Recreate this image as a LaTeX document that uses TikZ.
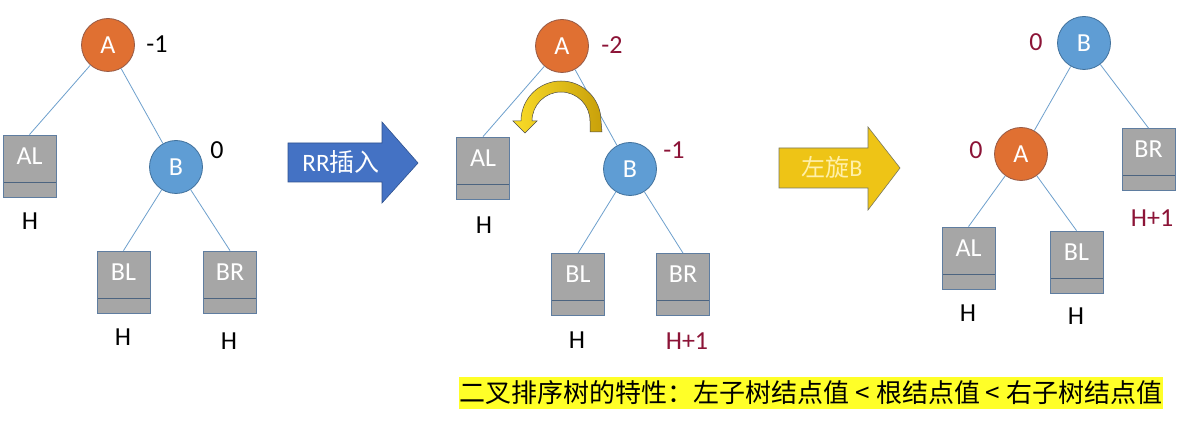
\documentclass[tikz,border=0pt]{standalone}
\usepackage{fontspec}
\setmainfont{Carlito}
\newfontfamily\cjk{Noto Sans CJK SC}
\definecolor{aorange}{RGB}{224,112,50}
\definecolor{aborder}{RGB}{150,90,70}
\definecolor{bblue}{RGB}{95,157,212}
\definecolor{bborder}{RGB}{65,113,156}
\definecolor{boxgray}{RGB}{166,166,166}
\definecolor{boxborder}{RGB}{95,125,160}
\definecolor{edgeblue}{RGB}{110,160,205}
\definecolor{darkred}{RGB}{140,20,55}
\definecolor{arrblue}{RGB}{68,114,196}
\definecolor{arrblueb}{RGB}{47,82,143}
\definecolor{arryel}{RGB}{238,196,22}
\definecolor{arryelb}{RGB}{120,120,95}
\definecolor{curvl}{RGB}{250,220,40}
\definecolor{curvr}{RGB}{200,160,10}
\definecolor{txtcream}{RGB}{255,240,170}
\definecolor{hilite}{RGB}{255,255,40}
\begin{document}
\begin{tikzpicture}[x=1pt,y=1pt,
  anode/.style={circle,fill=aorange,draw=aborder,line width=0.8pt,minimum size=53pt,inner sep=0pt,text=white,font=\fontsize{26}{26}\selectfont},
  bnode/.style={circle,fill=bblue,draw=bborder,line width=0.8pt,minimum size=53pt,inner sep=0pt,text=white,font=\fontsize{26}{26}\selectfont},
  tbox/.style={rectangle,fill=boxgray,draw=boxborder,line width=0.8pt,minimum width=53pt,minimum height=62pt,inner sep=0pt,
    path picture={
      \draw[boxborder!80!black,line width=0.8pt] ([yshift=15pt]path picture bounding box.south west) -- ([yshift=15pt]path picture bounding box.south east);
      \node[text=white,inner sep=0pt,font=\fontsize{26}{26}\selectfont] at ([yshift=-21pt]path picture bounding box.north) {#1};
    }},
  edge/.style={draw=edgeblue,line width=0.8pt},
  lbl/.style={inner sep=0pt,font=\fontsize{26}{26}\selectfont},
  rlbl/.style={lbl,text=darkred},
]
\useasboundingbox (0,0) rectangle (1190,-427);
\fill[white] (0,0) rectangle (1190,-427);

% ---------- Tree 1 ----------
\node[anode] (A1) at (108,-45) {A};
\node[bnode] (B1) at (176,-167) {B};
\node[tbox=AL] (AL1) at (29.5,-166) {};
\node[tbox=BL] (BL1) at (123.5,-282) {};
\node[tbox=BR] (BR1) at (230,-282) {};
\draw[edge] (A1) -- (AL1.north);
\draw[edge] (A1) -- (B1);
\draw[edge] (B1) -- (BL1.north);
\draw[edge] (B1) -- (BR1.north);
\node[lbl] (a1b) at (157,-44) {-1};
\node[lbl] (b1b) at (217,-150) {0};
\node[lbl] (h11) at (30,-221) {H};
\node[lbl] (h12) at (123,-337) {H};
\node[lbl] (h13) at (229,-341) {H};

% ---------- Arrow 1 ----------
\fill[arrblue,draw=arrblueb,line width=0.6pt] (288,-143) -- (382,-143) -- (382,-122) -- (418,-163) -- (382,-203) -- (382,-182) -- (288,-182) -- cycle;
\node[text=white,inner sep=0pt,font=\fontsize{25}{25}\selectfont] (t1) at (341,-162) {RR{\cjk 插入}};

% ---------- Tree 2 ----------
\node[anode] (A2) at (562,-46) {A};
\node[bnode] (B2) at (630,-169) {B};
\node[tbox=AL] (AL2) at (483,-168) {};
\node[tbox=BL] (BL2) at (578,-284.5) {};
\node[tbox=BR] (BR2) at (683,-284.5) {};
\draw[edge] (A2) -- (AL2.north);
\draw[edge] (A2) -- (B2);
\draw[edge] (B2) -- (BL2.north);
\draw[edge] (B2) -- (BR2.north);
\node[rlbl] (a2b) at (612,-45) {-2};
\node[rlbl] (b2b) at (674,-150) {-1};
\node[lbl] (h21) at (484,-225) {H};
\node[lbl] (h22) at (577,-340) {H};
\node[rlbl] (h23) at (687,-341) {H+1};
% curved rotation arrow
\shade[left color=curvl,right color=curvr,draw=gray!60!black,line width=0.5pt]
  (602,-132) -- (601,-121) arc[start angle=0,end angle=180,radius=40] -- (513,-121) -- (525,-133) -- (537,-121) -- (532,-121)
  arc[start angle=180,end angle=0,radius=29] -- (590,-132) -- cycle;

% ---------- Arrow 2 ----------
\fill[arryel,draw=arryelb,line width=0.6pt] (779,-148) -- (868,-148) -- (868,-127) -- (900,-168) -- (868,-210) -- (868,-188) -- (779,-188) -- cycle;
\node[text=txtcream,inner sep=0pt,font=\fontsize{24}{24}\selectfont] (t2) at (832,-167) {{\cjk 左旋}B};

% ---------- Tree 3 ----------
\node[bnode] (B3) at (1084,-43) {B};
\node[anode] (A3) at (1021,-154) {A};
\node[tbox=BR] (BR3) at (1148.5,-159.5) {};
\node[tbox=AL] (AL3) at (968.5,-258) {};
\node[tbox=BL] (BL3) at (1076.5,-262) {};
\draw[edge] (B3) -- (A3);
\draw[edge] (B3) -- (BR3.north);
\draw[edge] (A3) -- (AL3.north);
\draw[edge] (A3) -- (BL3.north);
\node[rlbl] (b3b) at (1036,-42) {0};
\node[rlbl] (a3b) at (976,-150) {0};
\node[rlbl] (h31) at (1152,-218) {H+1};
\node[lbl] (h32) at (968,-313) {H};
\node[lbl] (h33) at (1076,-316) {H};

% ---------- Bottom note ----------
\node[fill=hilite,inner xsep=1pt,inner ysep=0pt,minimum height=32pt,font=\cjk\fontsize{26}{26}\selectfont] (note) at (811,-393) {二叉排序树的特性：左子树结点值 < 根结点值 < 右子树结点值};
\end{tikzpicture}
\end{document}
